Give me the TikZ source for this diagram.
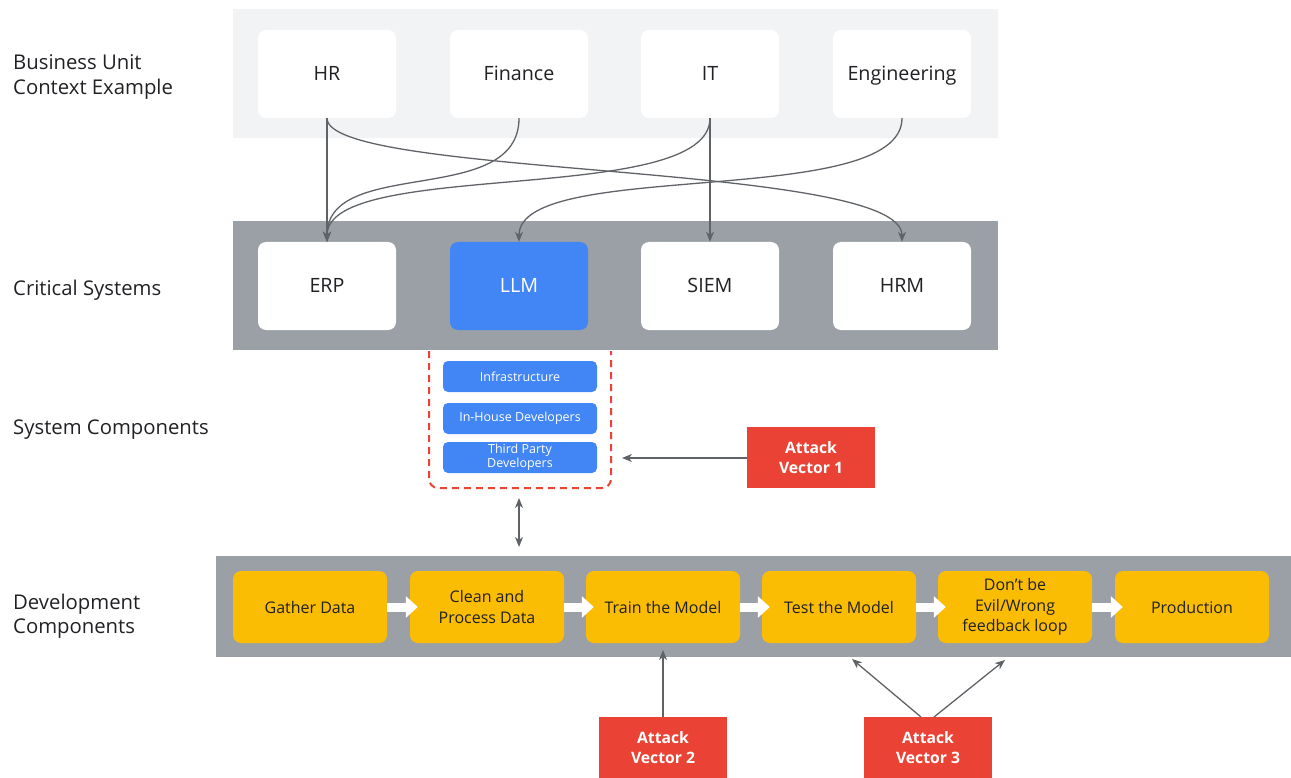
\documentclass[tikz,border=0pt]{standalone}
\usepackage{fontspec}
\setmainfont{Open Sans}
\usetikzlibrary{arrows.meta}

\definecolor{bandlight}{HTML}{F1F3F4}
\definecolor{bandgray}{HTML}{9AA0A6}
\definecolor{gblue}{HTML}{4285F4}
\definecolor{gyellow}{HTML}{FBBC04}
\definecolor{gred}{HTML}{EA4335}
\definecolor{linkgray}{HTML}{5F6368}
\definecolor{ink}{HTML}{202124}

\tikzset{
  band/.style={rectangle, draw=none, inner sep=0pt},
  rowlabel/.style={anchor=west, align=left, text=ink, inner sep=0pt,
    font=\fontsize{20.3}{24.5}\selectfont},
  unitbox/.style={rectangle, rounded corners=8pt, fill=white, inner sep=0pt,
    minimum width=138pt, minimum height=88pt, text=ink,
    text height=14pt, text depth=0pt,
    font=\fontsize{19.7}{22}\selectfont},
  llmbox/.style={unitbox, fill=gblue, text=white},
  compbox/.style={rectangle, rounded corners=5pt, fill=gblue, inner sep=0pt,
    minimum width=154pt, minimum height=31pt, text=white, align=center,
    font=\fontsize{12.5}{14}\selectfont},
  stagebox/.style={rectangle, rounded corners=8pt, fill=gyellow, inner sep=0pt,
    minimum width=154pt, minimum height=72pt, text=ink, align=center,
    font=\fontsize{16}{20.8}\selectfont},
  attackbox/.style={rectangle, fill=gred, inner sep=0pt,
    minimum width=128pt, minimum height=61pt, text=white, align=center,
    font=\fontsize{15.7}{20}\selectfont\bfseries},
  link/.style={draw=linkgray, line width=1.3pt,
    -{Stealth[length=10pt,width=8pt,inset=3pt]}},
  duallink/.style={draw=linkgray, line width=1.3pt,
    {Stealth[length=10pt,width=8pt,inset=3pt]}-{Stealth[length=10pt,width=8pt,inset=3pt]}},
  flow/.style={draw=white, line width=9pt,
    -{Triangle[length=12pt,width=21pt]}},
  groupline/.style={draw=gred, line width=2pt, dash pattern=on 7pt off 5pt,
    rounded corners=9pt}
}

\begin{document}
\begin{tikzpicture}[x=1pt, y=-1pt]
\useasboundingbox (0,0) rectangle (1291,778);

% background bands
\node[band, fill=bandlight, minimum width=765pt, minimum height=129pt] (unitband) at (615.5,73.5) {};
\node[band, fill=bandgray, minimum width=765pt, minimum height=129pt] (sysband) at (615.5,285.5) {};
\node[band, fill=bandgray, minimum width=1075pt, minimum height=101pt] (devband) at (753.5,606.5) {};

% row labels
\node[rowlabel] (lblunit) at (13,77) {Business Unit\\Context Example};
\node[rowlabel] (lblsys) at (13,290) {Critical Systems};
\node[rowlabel] (lblcomp) at (13,430) {System Components};
\node[rowlabel] (lbldev) at (13,616) {Development\\Components};

% business units
\node[unitbox] (hr) at (327,74) {HR};
\node[unitbox] (fin) at (519,74) {Finance};
\node[unitbox] (it) at (710,74) {IT};
\node[unitbox] (eng) at (902,74) {Engineering};

% critical systems
\node[unitbox] (erp) at (327,286) {ERP};
\node[llmbox] (llm) at (519,286) {LLM};
\node[unitbox] (siem) at (710,286) {SIEM};
\node[unitbox] (hrm) at (902,286) {HRM};

% LLM components group
\draw[groupline] (429,351) -- (429,488) -- (611,488) -- (611,351);
\node[compbox] (infra) at (520,376.5) {Infrastructure};
\node[compbox] (inhouse) at (520,418.5) {In-House Developers};
\node[compbox] (third) at (520,457.5) {Third Party\\Developers};

% development pipeline
\node[stagebox] (gather) at (310,607) {Gather Data};
\node[stagebox] (clean) at (487,607) {Clean and\\Process Data};
\node[stagebox] (train) at (663,607) {Train the Model};
\node[stagebox] (test) at (839,607) {Test the Model};
\node[stagebox] (evil) at (1015,607) {Don’t be\\Evil/Wrong\\feedback loop};
\node[stagebox] (prod) at (1192,607) {Production};

% attack vectors
\node[attackbox] (av1) at (811,457.5) {Attack\\Vector 1};
\node[attackbox, minimum height=62pt] (av2) at (663,748) {Attack\\Vector 2};
\node[attackbox, minimum height=62pt] (av3) at (928,748) {Attack\\Vector 3};

% free ends
\coordinate (grpright) at (622,458);
\coordinate (grpbottom) at (519,498);
\coordinate (devtop) at (519,547);
\coordinate (trainbelow) at (663,650);
\coordinate (av3a) at (921,717);
\coordinate (av3b) at (934,717);
\coordinate (testbelow) at (852,659);
\coordinate (evilbelow) at (1005,660);

% unit to system links
\draw[link] (hr.south) -- (erp.north);
\draw[link] (hr.south) .. controls +(0,60) and +(0,-80) .. (hrm.north);
\draw[link] (fin.south) .. controls +(0,90) and +(0,-86) .. (erp.north);
\draw[link] (it.south) .. controls +(0,89) and +(0,-84) .. (erp.north);
\draw[link] (it.south) -- (siem.north);
\draw[link] (eng.south) .. controls +(0,92) and +(0,-84) .. (llm.north);

% pipeline flow
\draw[flow] (gather.east) -- ([xshift=8pt]clean.west);
\draw[flow] (clean.east) -- ([xshift=8pt]train.west);
\draw[flow] (train.east) -- ([xshift=8pt]test.west);
\draw[flow] (test.east) -- ([xshift=8pt]evil.west);
\draw[flow] (evil.east) -- ([xshift=8pt]prod.west);

% attack links
\draw[link] (av1.west |- grpright) -- (grpright);
\draw[duallink] (grpbottom) -- (devtop);
\draw[link] (av2.north) -- (trainbelow);
\draw[link] (av3a) -- (testbelow);
\draw[link] (av3b) -- (evilbelow);
\end{tikzpicture}
\end{document}
